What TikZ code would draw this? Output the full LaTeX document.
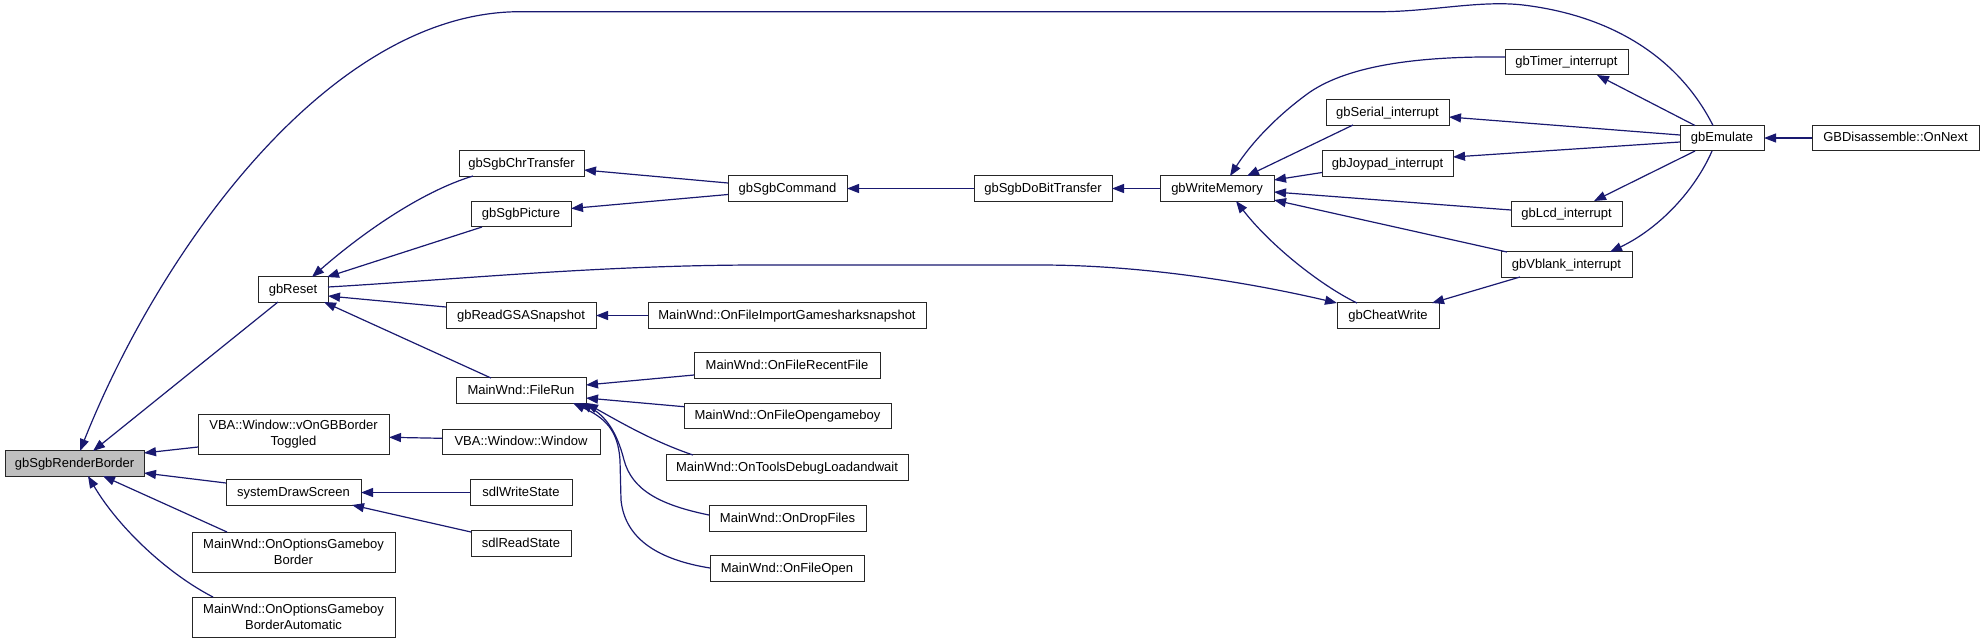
\documentclass[tikz,border=0pt]{standalone}
\usepackage{fontspec}
\setmainfont{Liberation Sans}
\usetikzlibrary{arrows.meta,calc}
\definecolor{edgeblue}{HTML}{191970}
\definecolor{rootgray}{HTML}{BFBFBF}
\begin{document}
\begin{tikzpicture}[x=1pt,y=-1pt,
  fn/.style={draw=black!85, line width=1pt, fill=white, inner sep=0pt, outer sep=0pt, minimum height=25.5pt, font=\fontsize{13}{15.5}\selectfont, text height=9.5pt, text depth=2pt},
  fntwo/.style={draw=black!85, line width=1pt, fill=white, inner sep=0pt, outer sep=0pt, minimum height=40pt, font=\fontsize{13}{15.5}\selectfont, align=center},
  call/.style={draw=edgeblue, line width=1.2pt, -{Triangle[length=12pt,width=9pt]}}]
\useasboundingbox (0,0) rectangle (1985,643);

% nodes
\node[fn, fill=rootgray, minimum width=139pt] (RB) at (74.5,463.5) {gbSgbRenderBorder};
\node[fn, minimum width=70pt] (reset) at (293,289.5) {gbReset};
\node[fn, minimum width=125pt] (chr) at (521.5,163.5) {gbSgbChrTransfer};
\node[fn, minimum width=100pt] (pic) at (521,214) {gbSgbPicture};
\node[fn, minimum width=119pt] (cmd) at (787.5,188.5) {gbSgbCommand};
\node[fn, minimum width=138pt] (dobit) at (1043,188.5) {gbSgbDoBitTransfer};
\node[fn, minimum width=114pt] (wmem) at (1217,188.5) {gbWriteMemory};
\node[fn, minimum width=123pt] (timer) at (1566.5,62) {gbTimer\_interrupt};
\node[fn, minimum width=123pt] (serial) at (1387.5,112.5) {gbSerial\_interrupt};
\node[fn, minimum width=131pt] (joy) at (1387.5,163.5) {gbJoypad\_interrupt};
\node[fn, minimum width=111pt] (lcd) at (1566.5,214) {gbLcd\_interrupt};
\node[fn, minimum width=131pt] (vbl) at (1566.5,264.5) {gbVblank\_interrupt};
\node[fn, minimum width=102pt] (cheat) at (1388,315.5) {gbCheatWrite};
\node[fn, minimum width=84pt] (emu) at (1722,138) {gbEmulate};
\node[fn, minimum width=167pt] (next) at (1895.5,138) {GBDisassemble::OnNext};
\node[fn, minimum width=150pt] (gsa) at (521,315.5) {gbReadGSASnapshot};
\node[fn, minimum width=278pt] (imp) at (787,315.5) {MainWnd::OnFileImportGamesharksnapshot};
\node[fn, minimum width=130pt] (filerun) at (521,390.5) {MainWnd::FileRun};
\node[fn, minimum width=186pt] (recent) at (787,365.5) {MainWnd::OnFileRecentFile};
\node[fn, minimum width=207pt] (opengb) at (787.5,416) {MainWnd::OnFileOpengameboy};
\node[fn, minimum width=242pt] (tools) at (787,467.5) {MainWnd::OnToolsDebugLoadandwait};
\node[fn, minimum width=157pt] (drop) at (787.5,518.5) {MainWnd::OnDropFiles};
\node[fn, minimum width=154pt] (fopen) at (787,568.5) {MainWnd::OnFileOpen};
\node[fntwo, minimum width=191pt] (von) at (293.5,434) {VBA::Window::vOnGBBorder\\Toggled};
\node[fn, minimum width=158pt] (win) at (521,442) {VBA::Window::Window};
\node[fn, minimum width=135pt] (sys) at (293.5,492.5) {systemDrawScreen};
\node[fn, minimum width=102pt] (sdlw) at (521,492.5) {sdlWriteState};
\node[fn, minimum width=100pt] (sdlr) at (521,543.5) {sdlReadState};
\node[fntwo, minimum width=203pt] (optb) at (293.5,552) {MainWnd::OnOptionsGameboy\\Border};
\node[fntwo, minimum width=203pt] (opta) at (293.5,617) {MainWnd::OnOptionsGameboy\\BorderAutomatic};

% edges (caller -> callee)
\draw[call] ($(reset)+(-15,12.5)$) -- ($(RB)+(18.5,-12.5)$);
\draw[call] ($(emu)+(-9,-12.5)$) .. controls (1680,60) and (1615,16) .. (1523,5)
   .. controls (1480,0) and (1430,11.7) .. (1380,11.7) -- (520,11.7)
   .. controls (330,11.7) and (160,250) .. ($(RB)+(5.5,-12.5)$);
\draw[call] ($(chr)+(-48.5,12.5)$) .. controls (420,192) and (360,235) .. ($(reset)+(19,-12.5)$);
\draw[call] ($(pic)+(-39,13)$) -- ($(reset)+(34,-12.5)$);
\draw[call] ($(reset)+(35,-2.5)$) .. controls (450,280) and (600,265) .. (760,265) -- (1040,265)
   .. controls (1150,265) and (1260,285) .. ($(cheat)+(-51,-12.5)$);
\draw[call] ($(gsa)+(-75,-8.5)$) -- ($(reset)+(35,6.5)$);
\draw[call] ($(filerun)+(-30,-12.5)$) -- ($(reset)+(31,12.5)$);
\draw[call] ($(von)+(-95.5,13)$) -- ($(RB)+(69.5,-10.5)$);
\draw[call] ($(sys)+(-67.5,-9.5)$) -- ($(RB)+(69.5,9.5)$);
\draw[call] ($(optb)+(-66.5,-20)$) -- ($(RB)+(28.5,12.5)$);
\draw[call] ($(opta)+(-80.5,-20)$) .. controls (170,575) and (120,530) .. ($(RB)+(13.5,12.5)$);
\draw[call] ($(cmd)+(-59.5,-5.5)$) -- ($(chr)+(62.5,6.5)$);
\draw[call] ($(cmd)+(-59.5,6)$) -- ($(pic)+(50,-5.5)$);
\draw[call] (dobit.west) -- (cmd.east);
\draw[call] (wmem.west) -- (dobit.east);
\draw[call] ($(timer)+(-61.5,-5)$) .. controls (1420,56) and (1350,65) .. (1310,92)
   .. controls (1275,117) and (1250,145) .. ($(wmem)+(13,-12.5)$);
\draw[call] ($(serial)+(-34.5,12.5)$) -- ($(wmem)+(30,-12.5)$);
\draw[call] ($(joy)+(-65.5,9)$) -- ($(wmem)+(57,-8.5)$);
\draw[call] ($(lcd)+(-55.5,-4)$) -- ($(wmem)+(57,3.5)$);
\draw[call] ($(vbl)+(-59.5,-12.5)$) -- ($(wmem)+(57,11.5)$);
\draw[call] ($(cheat)+(-31,-12.5)$) .. controls (1320,285) and (1270,245) .. ($(wmem)+(19,12.5)$);
\draw[call] ($(emu)+(-27,-12.5)$) -- ($(timer)+(30.5,13)$);
\draw[call] ($(emu)+(-42,-3)$) -- ($(serial)+(61.5,4.5)$);
\draw[call] ($(emu)+(-42,4)$) -- ($(joy)+(65.5,-6.5)$);
\draw[call] ($(emu)+(-27,13)$) -- ($(lcd)+(27.5,-13)$);
\draw[call] ($(emu)+(-10,13)$) .. controls (1695,190) and (1660,228) .. ($(vbl)+(43.5,-12.5)$);
\draw[call] (next.west) -- (emu.east);
\draw[call] ($(vbl)+(-46.5,12.5)$) -- ($(cheat)+(44,-12.5)$);
\draw[call] (imp.west) -- (gsa.east);
\draw[call] ($(win)+(-79,-3.7)$) -- ($(von)+(95.5,3.3)$);
\draw[call] (sdlw.west) -- (sys.east);
\draw[call] ($(sdlr)+(-50,-11.5)$) -- ($(sys)+(58.5,12.5)$);
\draw[call] ($(recent)+(-93,9.5)$) -- ($(filerun)+(65,-5.5)$);
\draw[call] ($(opengb)+(-103.5,-9.3)$) -- ($(filerun)+(65,7.5)$);
\draw[call] ($(tools)+(-94,-12.5)$) .. controls (655,442) and (625,425) .. ($(filerun)+(65,12.5)$);
\draw[call] ($(drop)+(-78.5,-3.5)$) .. controls (660,505) and (632,490) .. (624,460)
   .. controls (617,432) and (605,415) .. ($(filerun)+(59,12.5)$);
\draw[call] ($(fopen)+(-77,-0.5)$) .. controls (660,560) and (625,540) .. (621,500) -- (620,460)
   .. controls (618,430) and (605,418) .. ($(filerun)+(52,12.5)$);
\end{tikzpicture}
\end{document}
